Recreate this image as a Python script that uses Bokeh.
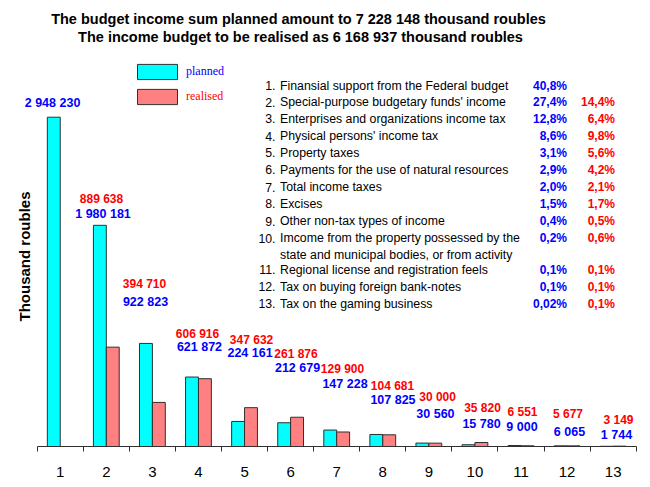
import math
from bokeh.plotting import figure
from bokeh.models import ColumnDataSource, FixedTicker, Legend, LegendItem, Range1d
from bokeh.core.properties import value
from bokeh.embed import file_html
from bokeh.resources import INLINE

# ---------------- data ----------------
categories = list(range(1, 14))
planned = [2948230, 1980181, 922823, 621872, 224161, 212679, 147228,
           107825, 30560, 15780, 9000, 6065, 1744]
realised = [None, 889638, 394710, 606916, 347632, 261876, 129900,
            104681, 30000, 35820, 6551, 5677, 3149]
planned_labels = ["2 948 230", "1 980 181", "922 823", "621 872", "224 161", "212 679",
                  "147 228", "107 825", "30 560", "15 780", "9 000", "6 065", "1 744"]
realised_labels = ["", "889 638", "394 710", "606 916", "347 632", "261 876", "129 900",
                   "104 681", "30 000", "35 820", "6 551", "5 677", "3 149"]
item_names = [
    "Finansial support from the Federal budget",
    "Special-purpose budgetary funds' income",
    "Enterprises and organizations income tax",
    "Physical persons' income tax",
    "Property taxes",
    "Payments for the use of natural resources",
    "Total income taxes",
    "Excises",
    "Other non-tax types of income",
    "Imcome from the property possessed by the\nstate and municipal bodies, or from activity",
    "Regional license and registration feels",
    "Tax on buying foreign bank-notes",
    "Tax on the gaming business",
]
planned_share = ["40,8%", "27,4%", "12,8%", "8,6%", "3,1%", "2,9%", "2,0%",
                 "1,5%", "0,4%", "0,2%", "0,1%", "0,1%", "0,02%"]
realised_share = ["", "14,4%", "6,4%", "9,8%", "5,6%", "4,2%", "2,1%",
                  "1,7%", "0,5%", "0,6%", "0,1%", "0,1%", "0,1%"]
title_lines = ["The budget income sum planned amount to  7 228 148 thousand roubles",
               "The income budget to be realised as 6 168 937 thousand roubles"]
y_title = "Thousand roubles"

# ---------------- layout / style ----------------
W, H = 642, 479
FRAME_H = 446                # frame from fig y 0 to 446
PX_PER_CAT = 46.077
AXIS_LEFT = 36.7             # fig px where category 0.5 sits
X0 = 0.5 - AXIS_LEFT / PX_PER_CAT
X1 = X0 + W / PX_PER_CAT
Y1 = 3993000

def px_x(px):
    return X0 + px / PX_PER_CAT

def px_y(py):
    return (FRAME_H - py) * Y1 / FRAME_H

BLUE = "#0000FF"
RED = "#FF0000"
CYAN = "#00FFFF"
SALMON = "#FF8080"
EDGE = "#303030"
SANS = "Liberation Sans"

# label offsets (pixels) relative to the bar top
p_dx = [-7.7, -3.3, -6.9, 1.0, 5.5, 6.9, 8.3, 10.2, 6.6, 6.6, 1.0, 2.4, 3.3]
p_dy = [-13.7, -11.5, -41.9, -30.5, -68.7, -54.5, -46.3, -34.0, -28.6, -21.2, -18.0, -14.3, -11.8]
r_dx = [0, -4.8, -7.9, -1.0, 7.0, 5.4, 5.8, 9.7, 8.7, 7.6, 1.5, 0.9, 5.3]
r_dy = [0, -148.3, -118.9, -45.2, -67.2, -63.4, -63.2, -49.3, -45.9, -34.3, -33.3, -31.4, -26.6]

# table row positions (px)
row_y = [85, 101.7, 118.3, 135.7, 152.3, 169.3, 186.7, 203.3, 220.7, 237.7, 269, 286, 303]
ROW_LINE = 16.6
NUM_RIGHT, TEXT_LEFT, PCT_P_RIGHT, PCT_R_RIGHT = 275, 279.5, 566.5, 614.5

p = figure(width=W, height=H, output_backend="svg", toolbar_location=None,
           x_range=Range1d(X0, X1), y_range=Range1d(0, Y1),
           y_axis_location=None, min_border_left=0, min_border_right=0,
           min_border_top=0, min_border_bottom=H - FRAME_H)
p.outline_line_color = None
p.xgrid.grid_line_color = None
p.ygrid.grid_line_color = None
p.background_fill_color = "white"
p.border_fill_color = "white"

# bars
BW = 0.28
src_p = ColumnDataSource(dict(x=[c - BW / 2 for c in categories], top=planned))
rc = [c for c, v in zip(categories, realised) if v is not None]
rv = [v for v in realised if v is not None]
src_r = ColumnDataSource(dict(x=[c + BW / 2 for c in rc], top=rv))
rp = p.vbar(x="x", top="top", bottom=0, width=BW, source=src_p,
            fill_color=CYAN, line_color=EDGE, line_width=1)
rr = p.vbar(x="x", top="top", bottom=0, width=BW, source=src_r,
            fill_color=SALMON, line_color=EDGE, line_width=1)

# value labels
lab_p = ColumnDataSource(dict(x=categories, y=planned, t=planned_labels, dx=p_dx, dy=p_dy))
p.text(x="x", y="y", text="t", x_offset="dx", y_offset="dy", source=lab_p,
       text_align="center", text_baseline="middle", text_color=BLUE,
       text_font=value(SANS), text_font_style="bold", text_font_size="12.5px")
lr = [(c, v, t, a, b) for c, v, t, a, b in zip(categories, realised, realised_labels, r_dx, r_dy) if v is not None]
lab_r = ColumnDataSource(dict(x=[e[0] for e in lr], y=[e[1] for e in lr], t=[e[2] for e in lr],
                              dx=[e[3] for e in lr], dy=[e[4] for e in lr]))
p.text(x="x", y="y", text="t", x_offset="dx", y_offset="dy", source=lab_r,
       text_align="center", text_baseline="middle", text_color=RED,
       text_font=value(SANS), text_font_style="bold", text_font_size="12px")

# titles
p.text(x=[px_x(300)] * 2, y=[px_y(18), px_y(36)], text=title_lines,
       text_align="center", text_baseline="middle", text_color="black",
       text_font=value(SANS), text_font_style="bold", text_font_size="14.5px")

# y-axis title
p.text(x=[px_x(24)], y=[px_y(256)], text=[y_title], angle=math.pi / 2,
       text_align="center", text_baseline="middle", text_color="black",
       text_font=value(SANS), text_font_style="bold", text_font_size="15px")

# table
nums, nx, ny, tx, ty, tt = [], [], [], [], [], []
for i, name in enumerate(item_names):
    nums.append(f"{i + 1}.")
    nx.append(px_x(NUM_RIGHT)); ny.append(px_y(row_y[i]))
    for j, line in enumerate(name.split("\n")):
        tt.append(line); tx.append(px_x(TEXT_LEFT)); ty.append(px_y(row_y[i] + j * ROW_LINE))
p.text(x=nx, y=ny, text=nums, text_align="right", text_baseline="middle",
       text_color="black", text_font=value(SANS), text_font_size="12.3px")
p.text(x=tx, y=ty, text=tt, text_align="left", text_baseline="middle",
       text_color="black", text_font=value(SANS), text_font_size="12.3px")
p.text(x=[px_x(PCT_P_RIGHT)] * len(row_y), y=[px_y(v) for v in row_y], text=planned_share,
       text_align="right", text_baseline="middle", text_color=BLUE,
       text_font=value(SANS), text_font_style="bold", text_font_size="12px")
p.text(x=[px_x(PCT_R_RIGHT)] * len(row_y), y=[px_y(v) for v in row_y], text=realised_share,
       text_align="right", text_baseline="middle", text_color=RED,
       text_font=value(SANS), text_font_style="bold", text_font_size="12px")

# legends
for label, rend, col, loc in [("planned", rp, BLUE, (132, 365)), ("realised", rr, RED, (132, 340.5))]:
    lg = Legend(items=[LegendItem(label=label, renderers=[rend])], location=loc,
                glyph_width=50, glyph_height=19, label_height=19, label_standoff=4,
                padding=0, margin=0, spacing=0, border_line_color=None,
                background_fill_alpha=0, label_text_font="Liberation Serif",
                label_text_font_size="12px", label_text_color=col)
    p.add_layout(lg)

# x axis
ax = p.xaxis[0]
ax.ticker = FixedTicker(ticks=categories, minor_ticks=[c - 0.5 for c in categories] + [13.5])
ax.bounds = (0.5, 13.5)
ax.major_tick_out = 0
ax.major_tick_in = 0
ax.minor_tick_out = 5
ax.minor_tick_in = 0
ax.minor_tick_line_color = EDGE
ax.axis_line_color = EDGE
ax.major_label_standoff = 15
ax.major_label_text_font = SANS
ax.major_label_text_font_size = "15px"
ax.major_label_text_color = "black"

open("out.html", "w").write(file_html(p, INLINE, "Budget income"))
